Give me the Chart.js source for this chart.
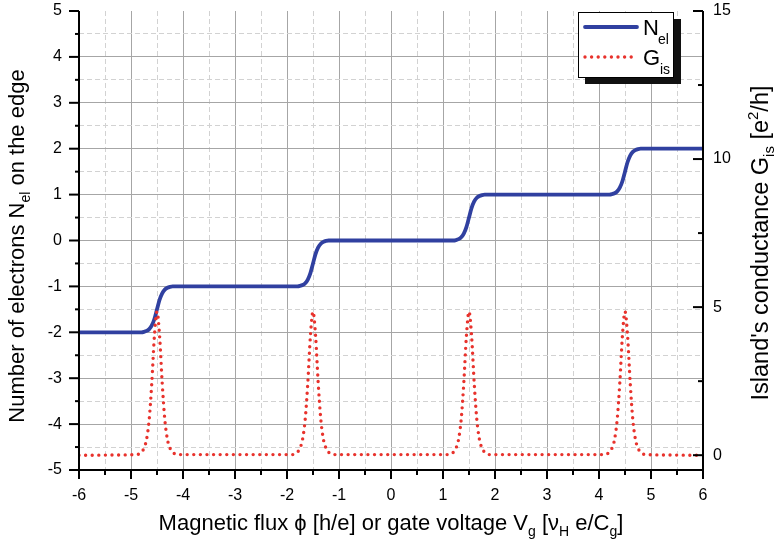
<!DOCTYPE html>
<html>
<head>
<meta charset="utf-8">
<script src="https://cdn.jsdelivr.net/npm/chart.js@4"></script>
<style>
    body { margin: 0; background: #fff; }
    #wrap { width: 775px; height: 546px; }
</style>
</head>
<body>
<div id="wrap"><canvas id="myChart"></canvas></div>
<script>
// Data
const xValues = [
    -6.0,
    -4.9, -4.8, -4.75, -4.7, -4.65, -4.6, -4.55, -4.5, -4.45, -4.4, -4.35, -4.3, -4.25, -4.2, -4.1,
    -1.9, -1.8, -1.75, -1.7, -1.65, -1.6, -1.55, -1.5, -1.45, -1.4, -1.35, -1.3, -1.25, -1.2, -1.1,
    1.1, 1.2, 1.25, 1.3, 1.35, 1.4, 1.45, 1.5, 1.55, 1.6, 1.65, 1.7, 1.75, 1.8, 1.9,
    4.1, 4.2, 4.25, 4.3, 4.35, 4.4, 4.45, 4.5, 4.55, 4.6, 4.65, 4.7, 4.75, 4.8, 4.9,
    6.0
];
const nElValues = [
    -2.00,
    -2.00, -2.00, -1.99, -1.97, -1.93, -1.85, -1.71, -1.50, -1.29, -1.15, -1.07, -1.03, -1.01, -1.00, -1.00,
    -1.00, -1.00, -0.99, -0.97, -0.93, -0.85, -0.71, -0.50, -0.29, -0.15, -0.07, -0.03, -0.01, 0.00, 0.00,
    0.00, 0.00, 0.01, 0.03, 0.07, 0.15, 0.29, 0.50, 0.71, 0.85, 0.93, 0.97, 0.99, 1.00, 1.00,
    1.00, 1.00, 1.01, 1.03, 1.07, 1.15, 1.29, 1.50, 1.71, 1.85, 1.93, 1.97, 1.99, 2.00, 2.00,
    2.00
];
const gIsValues = [
    0.00,
    0.02, 0.10, 0.24, 0.54, 1.21, 2.44, 4.02, 4.85, 4.02, 2.44, 1.21, 0.54, 0.24, 0.10, 0.02,
    0.02, 0.10, 0.24, 0.54, 1.21, 2.44, 4.02, 4.85, 4.02, 2.44, 1.21, 0.54, 0.24, 0.10, 0.02,
    0.02, 0.10, 0.24, 0.54, 1.21, 2.44, 4.02, 4.85, 4.02, 2.44, 1.21, 0.54, 0.24, 0.10, 0.02,
    0.02, 0.10, 0.24, 0.54, 1.21, 2.44, 4.02, 4.85, 4.02, 2.44, 1.21, 0.54, 0.24, 0.10, 0.02,
    0.00
];
const rightTicks = [0, 5, 10, 15];
const rightMinorTicks = [2.5, 7.5, 12.5];

const FONT = '"Liberation Sans", Arial, sans-serif';
const BLUE = '#3040a0';
const RED = '#e8322c';

function isInt(v) {
    return Math.abs(v - Math.round(v)) < 1e-6;
}

function gridColor(ctx, lo, hi) {
    if (!ctx.tick) return 'rgba(0,0,0,0)';
    const v = ctx.tick.value;
    if (v <= lo || v >= hi) return 'rgba(0,0,0,0)';
    return isInt(v) ? '#a6a6a6' : '#d2d2d2';
}

function gridDash(ctx) {
    if (!ctx.tick) return [];
    return isInt(ctx.tick.value) ? [] : [5, 3];
}

// vertical scales: fixed width and no extra label padding on top/bottom
function fixVertical(width) {
    return function (s) {
        s.width = width;
        s.paddingTop = 0;
        s.paddingBottom = 0;
    };
}

// draws text with subscripts / superscripts, centred on (0,0)
function drawRich(ctx, parts) {
    let total = 0;
    parts.forEach(p => {
        ctx.font = p.size + 'px ' + FONT;
        p.w = ctx.measureText(p.t).width;
        total += p.w;
    });
    let x = -total / 2;
    ctx.textAlign = 'left';
    ctx.textBaseline = 'alphabetic';
    parts.forEach(p => {
        ctx.font = p.size + 'px ' + FONT;
        ctx.fillText(p.t, x, p.dy || 0);
        x += p.w;
    });
}

const decorPlugin = {
    id: 'decor',
    afterDraw(chart) {
        const ctx = chart.ctx;
        const area = chart.chartArea;
        const xs = chart.scales.x;
        const y = chart.scales.y;
        const y2 = chart.scales.y2;

        ctx.save();
        ctx.strokeStyle = '#000';
        ctx.lineWidth = 2;

        // axis lines
        ctx.beginPath();
        ctx.moveTo(area.left, area.top);
        ctx.lineTo(area.left, area.bottom);
        ctx.lineTo(area.right, area.bottom);
        ctx.lineTo(area.right, area.top);
        ctx.stroke();

        // bottom ticks (outward)
        xs.ticks.forEach(t => {
            const px = xs.getPixelForValue(t.value);
            const len = isInt(t.value) ? 9 : 5;
            ctx.beginPath();
            ctx.moveTo(px, area.bottom);
            ctx.lineTo(px, area.bottom + len);
            ctx.stroke();
        });

        // left ticks (outward)
        y.ticks.forEach(t => {
            const py = y.getPixelForValue(t.value);
            const len = isInt(t.value) ? 10 : 4;
            ctx.beginPath();
            ctx.moveTo(area.left, py);
            ctx.lineTo(area.left - len, py);
            ctx.stroke();
        });

        // right ticks (inward)
        rightTicks.forEach(v => {
            const py = y2.getPixelForValue(v);
            ctx.beginPath();
            ctx.moveTo(area.right, py);
            ctx.lineTo(area.right - 10, py);
            ctx.stroke();
        });
        rightMinorTicks.forEach(v => {
            const py = y2.getPixelForValue(v);
            ctx.beginPath();
            ctx.moveTo(area.right, py);
            ctx.lineTo(area.right - 5, py);
            ctx.stroke();
        });

        ctx.fillStyle = '#000';

        // bottom title
        ctx.save();
        ctx.translate((area.left + area.right) / 2, 530);
        drawRich(ctx, [
            { t: 'Magnetic flux \u03d5 [h/e] or gate voltage V', size: 22 },
            { t: 'g', size: 14, dy: 6 },
            { t: ' [\u03bd', size: 22 },
            { t: 'H', size: 14, dy: 6 },
            { t: ' e/C', size: 22 },
            { t: 'g', size: 14, dy: 6 },
            { t: ']', size: 22 }
        ]);
        ctx.restore();

        // left title
        ctx.save();
        ctx.translate(24, 246);
        ctx.rotate(-Math.PI / 2);
        drawRich(ctx, [
            { t: 'Number of electrons N', size: 22 },
            { t: 'el', size: 14, dy: 6 },
            { t: ' on the edge', size: 22 }
        ]);
        ctx.restore();

        // right title
        ctx.save();
        ctx.translate(768, 243);
        ctx.rotate(-Math.PI / 2);
        drawRich(ctx, [
            { t: 'Island\'s conductance G', size: 23.5 },
            { t: 'is', size: 15, dy: 6 },
            { t: ' [e', size: 23.5 },
            { t: '2', size: 15, dy: -10 },
            { t: '/h]', size: 23.5 }
        ]);
        ctx.restore();

        // legend with shadow
        ctx.fillStyle = '#111';
        ctx.fillRect(585, 19, 96, 65);
        ctx.fillStyle = '#fff';
        ctx.fillRect(578, 12, 96, 66);
        ctx.lineWidth = 1;
        ctx.strokeStyle = '#000';
        ctx.strokeRect(578.5, 12.5, 95, 65);

        ctx.lineCap = 'round';
        ctx.strokeStyle = BLUE;
        ctx.lineWidth = 3.8;
        ctx.beginPath();
        ctx.moveTo(585, 27);
        ctx.lineTo(637, 27);
        ctx.stroke();

        ctx.strokeStyle = RED;
        ctx.lineWidth = 3.4;
        ctx.setLineDash([0, 6.6]);
        ctx.beginPath();
        ctx.moveTo(585, 57);
        ctx.lineTo(637, 57);
        ctx.stroke();
        ctx.setLineDash([]);

        ctx.fillStyle = '#000';
        ctx.textAlign = 'left';
        ctx.textBaseline = 'alphabetic';
        ctx.font = '22px ' + FONT;
        ctx.fillText('N', 643, 35);
        ctx.fillText('G', 643, 65);
        ctx.font = '14px ' + FONT;
        ctx.fillText('el', 658, 44);
        ctx.fillText('is', 660, 74);

        ctx.restore();
    }
};

document.addEventListener('DOMContentLoaded', function () {
    initializeChart();
});

function initializeChart() {
    const ctx = document.getElementById('myChart').getContext('2d');
    new Chart(ctx, {
        type: 'line',
        data: {
            datasets: [{
                label: 'Nel',
                data: xValues.map((x, i) => ({ x: x, y: nElValues[i] })),
                yAxisID: 'y',
                borderColor: BLUE,
                borderWidth: 3.8,
                pointRadius: 0,
                cubicInterpolationMode: 'monotone',
                fill: false,
                order: 2
            }, {
                label: 'Gis',
                data: xValues.map((x, i) => ({ x: x, y: gIsValues[i] })),
                yAxisID: 'y2',
                borderColor: RED,
                borderWidth: 3.4,
                borderDash: [0, 6.6],
                borderCapStyle: 'round',
                pointRadius: 0,
                cubicInterpolationMode: 'monotone',
                fill: false,
                order: 1
            }]
        },
        options: {
            responsive: true,
            maintainAspectRatio: false,
            animation: false,
            layout: {
                padding: { top: 11, left: 0, right: 0, bottom: 0 }
            },
            plugins: {
                legend: { display: false },
                tooltip: { enabled: false },
                title: { display: false }
            },
            scales: {
                x: {
                    type: 'linear',
                    min: -6,
                    max: 6,
                    afterFit: s => { s.height = 76; s.paddingLeft = 0; s.paddingRight = 0; },
                    ticks: {
                        stepSize: 0.5,
                        autoSkip: false,
                        maxRotation: 0,
                        padding: 16,
                        color: '#000',
                        font: { family: FONT, size: 16 },
                        callback: v => isInt(v) ? String(Math.round(v)) : ''
                    },
                    grid: {
                        drawTicks: false,
                        color: c => gridColor(c, -6, 6),
                        lineWidth: 1
                    },
                    border: { display: false, dash: gridDash }
                },
                y: {
                    position: 'left',
                    min: -5,
                    max: 5,
                    afterFit: fixVertical(79),
                    ticks: {
                        stepSize: 0.5,
                        autoSkip: false,
                        padding: 17,
                        color: '#000',
                        font: { family: FONT, size: 16 },
                        callback: v => isInt(v) ? String(Math.round(v)) : ''
                    },
                    grid: {
                        drawTicks: false,
                        color: c => gridColor(c, -5, 5),
                        lineWidth: 1
                    },
                    border: { display: false, dash: gridDash }
                },
                y2: {
                    position: 'right',
                    min: -0.5,
                    max: 15,
                    afterFit: fixVertical(72),
                    afterBuildTicks: s => { s.ticks = rightTicks.map(v => ({ value: v })); },
                    ticks: {
                        padding: 10,
                        color: '#000',
                        font: { family: FONT, size: 16 },
                        callback: v => String(v)
                    },
                    grid: { display: false, drawTicks: false },
                    border: { display: false }
                }
            }
        },
        plugins: [decorPlugin]
    });
}
</script>
</body>
</html>
